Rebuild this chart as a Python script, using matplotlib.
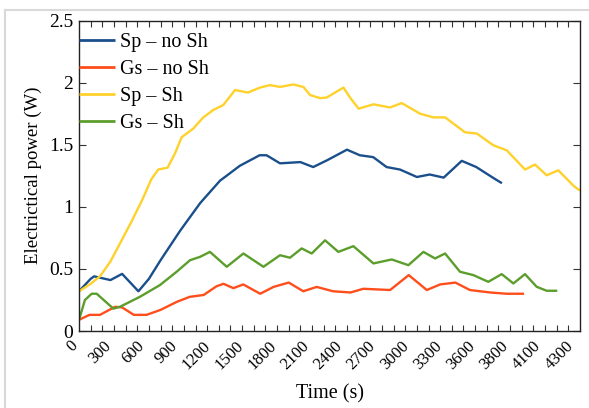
import matplotlib
matplotlib.use("Agg")
import matplotlib.pyplot as plt
from matplotlib.lines import Line2D
import matplotlib.transforms as mtransforms
import numpy as np

# ---- data ----
sp_nosh_t = [0, 100, 130, 270, 370, 510, 600, 700, 870, 1040, 1210, 1380, 1550, 1610, 1725,
             1900, 2010, 2130, 2300, 2410, 2525, 2640, 2755, 2900, 3010, 3130, 3285, 3410, 3560, 3630]
sp_nosh_p = [0.32, 0.42, 0.44, 0.41, 0.46, 0.32, 0.42, 0.57, 0.81, 1.03, 1.21, 1.33, 1.415, 1.415, 1.35,
             1.36, 1.32, 1.375, 1.46, 1.415, 1.40, 1.32, 1.30, 1.24, 1.26, 1.235, 1.37, 1.32, 1.23, 1.19]

gs_nosh_t = [0, 90, 180, 310, 370, 470, 580, 700, 840, 950, 1070, 1180, 1240, 1325, 1410, 1555, 1670,
             1800, 1925, 2040, 2180, 2330, 2440, 2670, 2830, 2985, 3100, 3230, 3355, 3530, 3670, 3820]
gs_nosh_p = [0.09, 0.13, 0.13, 0.195, 0.19, 0.13, 0.13, 0.17, 0.235, 0.275, 0.29, 0.36, 0.38, 0.345, 0.375,
             0.30, 0.355, 0.39, 0.32, 0.355, 0.32, 0.31, 0.34, 0.33, 0.45, 0.33, 0.375, 0.39, 0.33, 0.31, 0.30, 0.30]

sp_sh_t = [0, 100, 180, 270, 360, 450, 540, 620, 680, 760, 824, 881, 981, 1067, 1153, 1239, 1339, 1450,
           1554, 1640, 1725, 1840, 1926, 1983, 2069, 2126, 2270, 2326, 2400, 2527, 2670, 2770, 2927, 3041,
           3142, 3313, 3414, 3557, 3671, 3828, 3914, 4014, 4114, 4243, 4300]
sp_sh_p = [0.32, 0.38, 0.44, 0.56, 0.72, 0.88, 1.05, 1.22, 1.30, 1.315, 1.43, 1.56, 1.63, 1.72, 1.78, 1.82,
           1.94, 1.92, 1.96, 1.98, 1.965, 1.985, 1.965, 1.90, 1.875, 1.88, 1.96, 1.88, 1.79, 1.825, 1.80, 1.835,
           1.75, 1.72, 1.72, 1.60, 1.59, 1.495, 1.455, 1.30, 1.34, 1.254, 1.294, 1.17, 1.13]

gs_sh_t = [0, 51, 109, 152, 295, 352, 524, 695, 838, 953, 1039, 1124, 1268, 1411, 1583, 1725, 1811,
           1911, 1997, 2112, 2226, 2355, 2527, 2684, 2827, 2956, 3056, 3142, 3270, 3385, 3513, 3628,
           3728, 3828, 3928, 4014, 4105]
gs_sh_p = [0.09, 0.25, 0.30, 0.30, 0.18, 0.195, 0.276, 0.37, 0.477, 0.57, 0.597, 0.637, 0.517, 0.624,
           0.517, 0.61, 0.59, 0.665, 0.624, 0.73, 0.637, 0.683, 0.544, 0.576, 0.53, 0.637, 0.584, 0.624,
           0.477, 0.45, 0.396, 0.458, 0.383, 0.458, 0.356, 0.324, 0.324]

series_labels = ["Sp \u2013 no Sh", "Gs \u2013 no Sh", "Sp \u2013 Sh", "Gs \u2013 Sh"]
x_tick_labels = ["0", "300", "600", "900", "1200", "1500", "1800", "2100", "2400", "2700",
                 "3000", "3300", "3600", "3800", "4100", "4300"]
y_ticks = [0, 0.5, 1, 1.5, 2, 2.5]
y_tick_labels = ["0", "0.5", "1", "1.5", "2", "2.5"]

colors = ["#1a4f8c", "#ff4e1c", "#ffd12b", "#5c9e2c"]

plt.rcParams['font.family'] = ['Liberation Serif', 'DejaVu Serif']

W, H = 589, 408
fig = plt.figure(figsize=(W / 100, H / 100), dpi=100)
ax = fig.add_axes([79 / W, 1 - 331 / H, (580 - 79) / W, (331 - 20.5) / H])

data = [(sp_nosh_t, sp_nosh_p), (gs_nosh_t, gs_nosh_p), (sp_sh_t, sp_sh_p), (gs_sh_t, gs_sh_p)]
for (t, p), c, lab in zip(data, colors, series_labels):
    ax.plot(t, p, color=c, lw=1.7, label=lab, solid_joinstyle='round', solid_capstyle='butt')

ax.set_xlim(0, 4300)
ax.set_ylim(0, 2.5)

# x labels: evenly spaced along the axis (category-style labelling)
label_pos = np.linspace(0, 4300, len(x_tick_labels))
ax.set_xticks(label_pos)
ax.set_xticklabels([])
n = len(x_tick_labels)
for i, (pos, txt) in enumerate(zip(label_pos, x_tick_labels)):
    dx = -(9 + 5 * i / (n - 1)) / 100
    tr = ax.get_xaxis_transform() + mtransforms.ScaledTranslation(dx, -7 / 100, fig.dpi_scale_trans)
    ax.text(pos, 0, txt, transform=tr, rotation=45, ha='right', va='top',
            rotation_mode='anchor', fontsize=12, clip_on=False)
ax.set_xticks(np.arange(0, 4301, 100), minor=True)
ax.tick_params(axis='x', which='major', length=0)
ax.tick_params(axis='x', which='minor', direction='in', length=4, width=0.8, top=True, bottom=True,
               color='#333333')

ax.set_yticks(y_ticks)
ax.set_yticklabels(y_tick_labels, fontsize=14)
ax.tick_params(axis='y', which='major', direction='in', length=5, width=0.8, left=True, right=True,
               color='#333333', pad=4)

for s in ax.spines.values():
    s.set_linewidth(1.0)
    s.set_color('#222222')

ax.set_xlabel("Time (s)", fontsize=14.5, labelpad=35)
ax.set_ylabel("Electrictical power (W)", fontsize=13.5, labelpad=5)

leg = ax.legend(loc='upper left', bbox_to_anchor=(0, 0.959), frameon=False, fontsize=14.5,
                handlelength=1.8, handletextpad=0.25, borderaxespad=0, borderpad=0,
                labelspacing=0.38)
for h in leg.get_lines():
    h.set_linewidth(2.0)

# light gray screenshot border
fig.add_artist(Line2D([5 / W, 1], [1 - 10 / H, 1 - 10 / H], transform=fig.transFigure,
                      color='#d9d9d9', lw=1.5))
fig.add_artist(Line2D([5 / W, 5 / W], [0, 1 - 10 / H], transform=fig.transFigure,
                      color='#d9d9d9', lw=1.5))

fig.savefig("out.png", dpi=100)
